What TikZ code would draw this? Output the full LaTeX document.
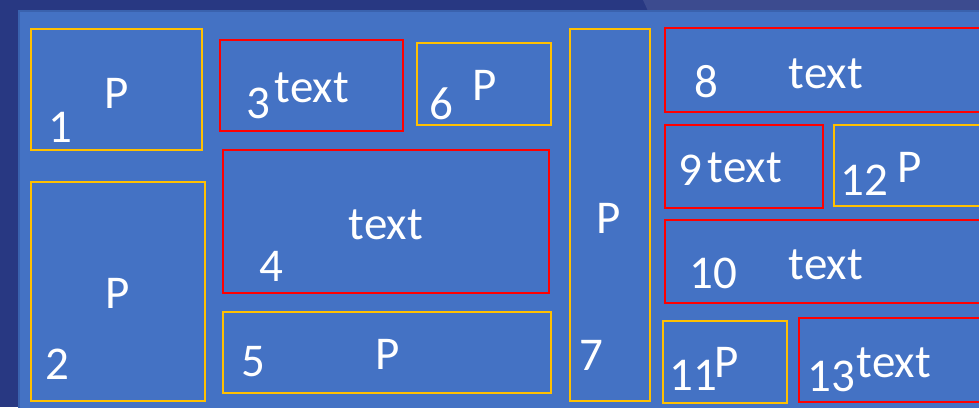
\documentclass[tikz,border=0pt]{standalone}
\usepackage{fontspec}
\setmainfont{Carlito}
\definecolor{outerblue}{HTML}{283882}
\definecolor{stripblue}{HTML}{3C4B8F}
\definecolor{panelblue}{HTML}{4472C4}
\definecolor{paneledge}{HTML}{3A62AE}
\definecolor{ygold}{HTML}{FFC000}
\definecolor{rred}{HTML}{FF0000}
\tikzset{
  ybox/.style={draw=ygold, line width=2.4pt},
  rbox/.style={draw=rred, line width=2.4pt},
  lbl/.style={text=white, inner sep=0pt, font=\fontsize{47}{47}\selectfont},
}
\begin{document}
\begin{tikzpicture}[x=1pt,y=-1pt]
\useasboundingbox (0,0) rectangle (979,407);
\clip (0,0) rectangle (979,407);
% background
\fill[outerblue] (0,0) rectangle (979,407);
\fill[stripblue] (643,0) -- (979,0) -- (979,11) -- (648,11) -- cycle;
\fill[panelblue] (18,10) rectangle (985,412);
\draw[paneledge, line width=2pt] (19,412) -- (19,11) -- (985,11);
% boxes
\draw[ybox] (31,29) rectangle (202,150);
\draw[ybox] (31,182) rectangle (205,401);
\draw[rbox] (220,40) rectangle (403,131);
\draw[rbox] (223,150) rectangle (549,293);
\draw[ybox] (223,312) rectangle (551,393);
\draw[ybox] (417,43) rectangle (551,125);
\draw[ybox] (570,29) rectangle (650,401);
\draw[rbox] (665,28) rectangle (990,112);
\draw[rbox] (665,125) rectangle (823,208);
\draw[ybox] (834,125) rectangle (990,206);
\draw[rbox] (665,220) rectangle (990,303);
\draw[ybox] (663,321) rectangle (787,403);
\draw[rbox] (799,318) rectangle (990,402);
% labels
\node[lbl] (p1) at (117,93) {P};
\node[lbl] (n1) at (60,127) {1};
\node[lbl] (p2) at (118,293) {P};
\node[lbl] (n2) at (57,364) {2};
\node[lbl] (n3) at (258,103) {3};
\node[lbl] (t3) at (312,88) {text};
\node[lbl] (t4) at (386,225) {text};
\node[lbl] (n4) at (271,266) {4};
\node[lbl] (n5) at (253,362) {5};
\node[lbl] (p5) at (388,354) {P};
\node[lbl] (n6) at (441,104) {6};
\node[lbl] (p6) at (485,85) {P};
\node[lbl] (p7) at (609,218) {P};
\node[lbl] (n7) at (591,355) {7};
\node[lbl] (n8) at (706,82) {8};
\node[lbl] (t8) at (826,74) {text};
\node[lbl] (n9) at (690,170) {9};
\node[lbl] (t9) at (745,168) {text};
\node[lbl] (n12) at (864,180) {12};
\node[lbl] (p12) at (910,167) {P};
\node[lbl] (n10) at (713,273) {10};
\node[lbl] (t10) at (826,265) {text};
\node[lbl] (n11) at (693,375) {11};
\node[lbl] (p11) at (727,362) {P};
\node[lbl] (n13) at (831,376) {13};
\node[lbl] (t13) at (894,363) {text};
\end{tikzpicture}
\end{document}
